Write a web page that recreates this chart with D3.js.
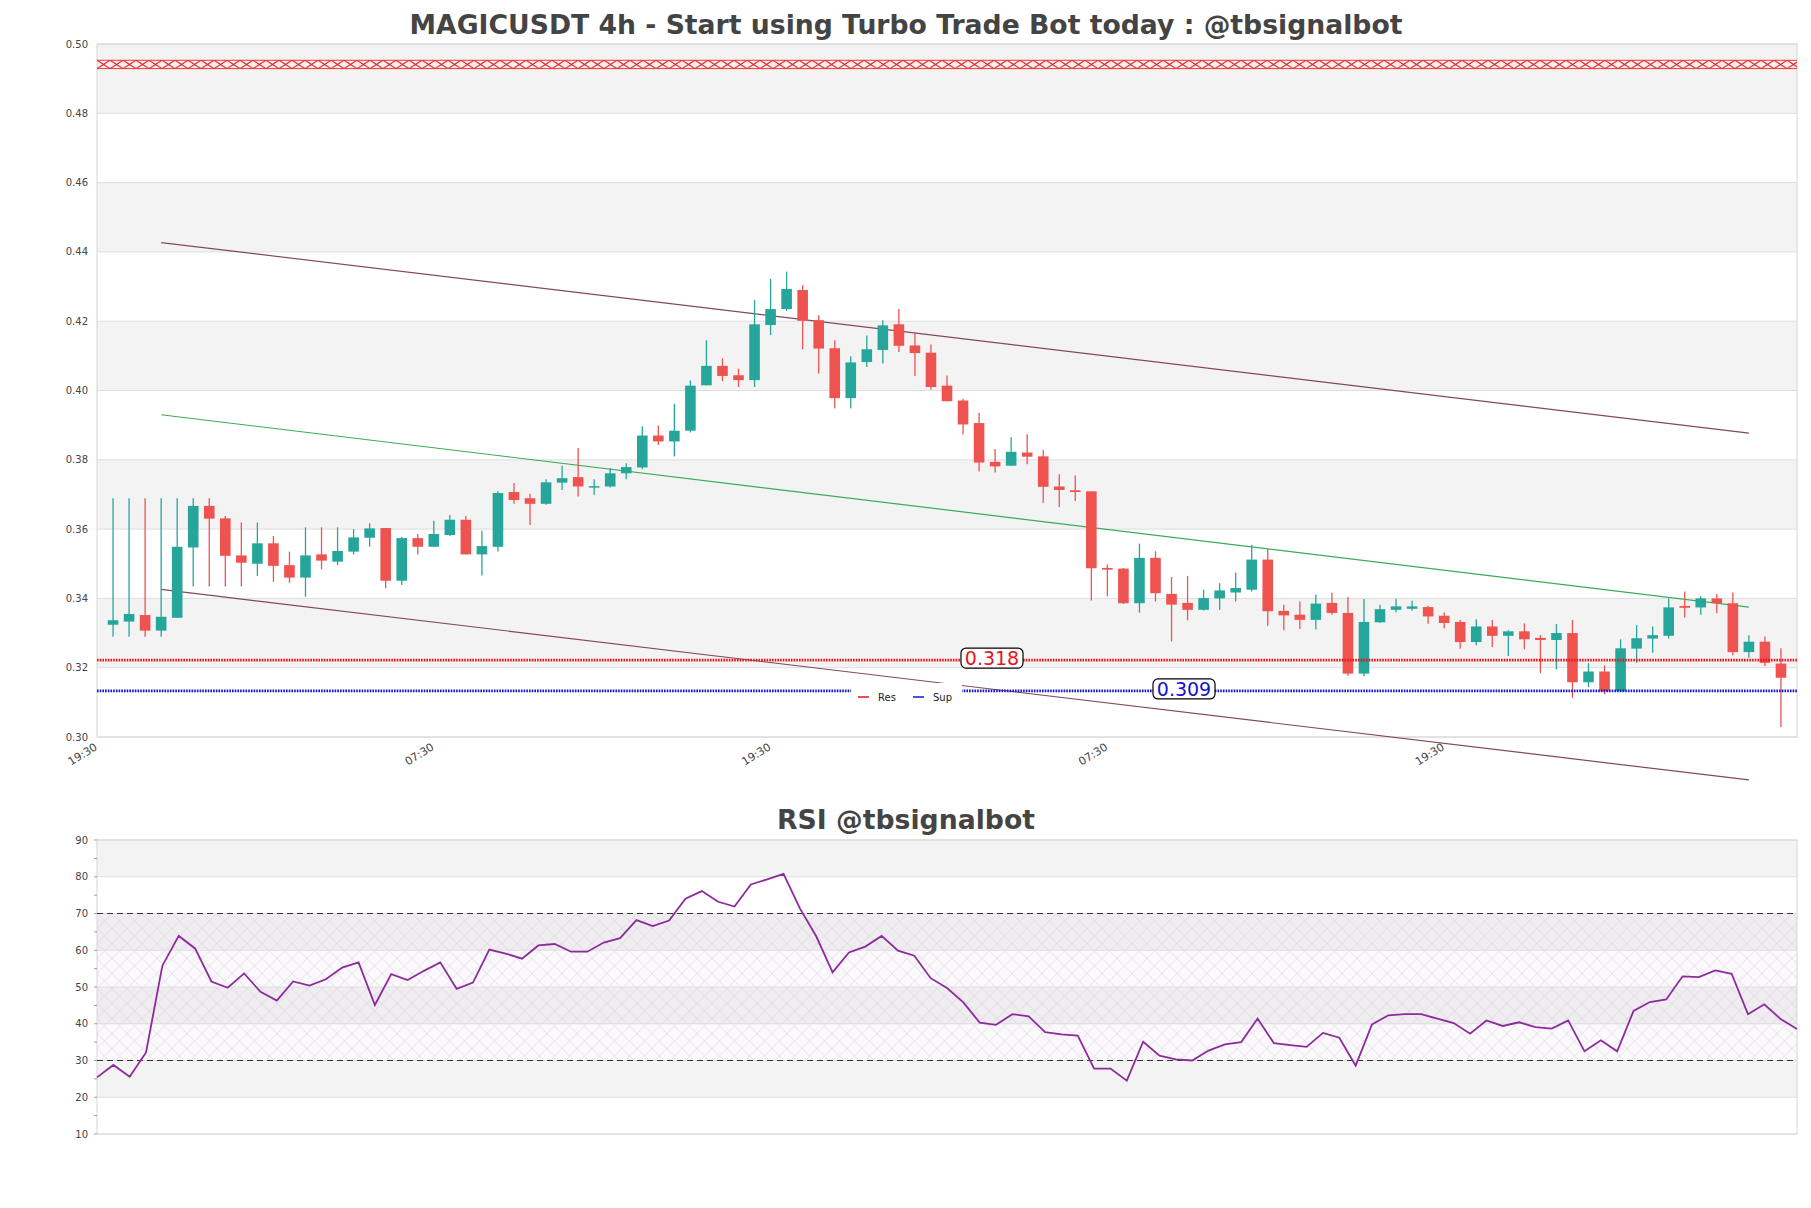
<!DOCTYPE html>
<html>
<head>
<meta charset="utf-8">
<script src="https://cdn.jsdelivr.net/npm/d3@7"></script>
<style>
  body { margin: 0; background: #fff; }
  svg { font-family: "DejaVu Sans", sans-serif; }
</style>
</head>
<body>
<svg id="svg" width="1811" height="1208"></svg>
<script>
// DATA //

// 4h candles
const open = [0.3324,0.3333,0.3352,0.3307,0.3344,0.3547,0.3667,0.3631,0.3524,0.3500,
  0.3559,0.3496,0.3460,0.3527,0.3506,0.3535,0.3575,0.3603,0.3451,0.3574,
  0.3549,0.3583,0.3627,0.3527,0.3549,0.3707,0.3689,0.3673,0.3734,0.3750,
  0.3722,0.3723,0.3761,0.3778,0.3870,0.3853,0.3884,0.4015,0.4071,0.4044,
  0.4030,0.4189,0.4235,0.4290,0.4203,0.4122,0.3978,0.4082,0.4117,0.4191,
  0.4130,0.4109,0.4014,0.3971,0.3906,0.3794,0.3783,0.3821,0.3810,0.3723,
  0.3712,0.3709,0.3488,0.3486,0.3386,0.3517,0.3413,0.3387,0.3367,0.3400,
  0.3417,0.3425,0.3512,0.3364,0.3353,0.3338,0.3387,0.3358,0.3183,0.3331,
  0.3367,0.3370,0.3375,0.3350,0.3332,0.3274,0.3319,0.3292,0.3305,0.3286,
  0.3280,0.3300,0.3158,0.3189,0.3132,0.3255,0.3284,0.3292,0.3378,0.3374,
  0.3400,0.3386,0.3245,0.3275,0.3212];
const high = [0.3689,0.3689,0.3689,0.3689,0.3689,0.3689,0.3689,0.3638,0.3619,0.3619,
  0.3580,0.3535,0.3605,0.3605,0.3605,0.3600,0.3617,0.3603,0.3578,0.3586,
  0.3624,0.3641,0.3638,0.3595,0.3710,0.3733,0.3702,0.3744,0.3783,0.3834,
  0.3744,0.3776,0.3790,0.3897,0.3899,0.3962,0.4029,0.4145,0.4093,0.4063,
  0.4261,0.4322,0.4343,0.4304,0.4217,0.4145,0.4099,0.4159,0.4203,0.4235,
  0.4167,0.4133,0.4043,0.3976,0.3936,0.3831,0.3865,0.3874,0.3828,0.3758,
  0.3755,0.3709,0.3498,0.3488,0.3558,0.3536,0.3462,0.3465,0.3425,0.3444,
  0.3475,0.3555,0.3542,0.3382,0.3391,0.3411,0.3416,0.3404,0.3398,0.3382,
  0.3399,0.3393,0.3379,0.3360,0.3338,0.3340,0.3338,0.3308,0.3328,0.3294,
  0.3326,0.3338,0.3213,0.3207,0.3282,0.3323,0.3319,0.3400,0.3420,0.3406,
  0.3413,0.3417,0.3294,0.3290,0.3256];
const low = [0.3289,0.3289,0.3289,0.3289,0.3344,0.3434,0.3434,0.3434,0.3434,0.3465,
  0.3448,0.3445,0.3405,0.3484,0.3496,0.3527,0.3549,0.3429,0.3439,0.3527,
  0.3549,0.3580,0.3527,0.3466,0.3535,0.3673,0.3612,0.3670,0.3713,0.3694,
  0.3699,0.3720,0.3744,0.3773,0.3843,0.3810,0.3879,0.4015,0.4027,0.4010,
  0.4010,0.4160,0.4230,0.4119,0.4049,0.3949,0.3949,0.4068,0.4078,0.4111,
  0.4042,0.4003,0.3969,0.3873,0.3766,0.3763,0.3783,0.3787,0.3676,0.3664,
  0.3681,0.3394,0.3406,0.3384,0.3359,0.3391,0.3276,0.3337,0.3365,0.3367,
  0.3391,0.3420,0.3321,0.3308,0.3312,0.3310,0.3353,0.3177,0.3175,0.3330,
  0.3360,0.3365,0.3327,0.3314,0.3255,0.3265,0.3260,0.3234,0.3253,0.3184,
  0.3195,0.3113,0.3144,0.3123,0.3132,0.3214,0.3243,0.3284,0.3345,0.3353,
  0.3357,0.3236,0.3229,0.3205,0.3029];
const close = [0.3337,0.3355,0.3307,0.3347,0.3549,0.3667,0.3630,0.3523,0.3503,0.3559,
  0.3494,0.3460,0.3524,0.3509,0.3537,0.3576,0.3602,0.3451,0.3574,0.3549,
  0.3586,0.3627,0.3527,0.3551,0.3704,0.3684,0.3673,0.3735,0.3747,0.3723,
  0.3724,0.3761,0.3779,0.3870,0.3853,0.3884,0.4014,0.4071,0.4042,0.4030,
  0.4191,0.4235,0.4293,0.4201,0.4121,0.3978,0.4081,0.4119,0.4188,0.4129,
  0.4108,0.4010,0.3969,0.3902,0.3792,0.3781,0.3823,0.3809,0.3722,0.3713,
  0.3707,0.3487,0.3483,0.3386,0.3517,0.3415,0.3382,0.3367,0.3401,0.3423,
  0.3430,0.3512,0.3363,0.3351,0.3338,0.3385,0.3358,0.3183,0.3332,0.3369,
  0.3377,0.3377,0.3348,0.3329,0.3274,0.3319,0.3292,0.3305,0.3282,0.3280,
  0.3300,0.3158,0.3189,0.3132,0.3256,0.3285,0.3294,0.3374,0.3373,0.3400,
  0.3386,0.3245,0.3275,0.3214,0.3171];

// RSI values, one per candle
const rsi = [25.4,28.8,25.6,32.2,55.8,63.9,60.5,51.5,49.8,53.7,
  48.7,46.3,51.5,50.4,52.1,55.3,56.7,45.1,53.5,51.9,
  54.4,56.7,49.5,51.2,60.2,59.1,57.7,61.3,61.7,59.6,
  59.6,62.1,63.3,68.2,66.6,68.1,74.0,76.1,73.2,71.9,
  77.9,79.3,80.8,71.4,63.8,54.0,59.4,61.0,63.9,59.9,
  58.5,52.4,49.7,45.8,40.3,39.7,42.6,42.0,37.7,37.1,
  36.8,27.8,27.8,24.5,35.1,31.3,30.3,30.0,32.7,34.4,
  35.0,41.4,34.7,34.2,33.7,37.5,36.2,28.6,39.8,42.3,
  42.6,42.6,41.4,40.2,37.3,40.9,39.4,40.4,39.1,38.7,
  40.9,32.5,35.5,32.5,43.5,45.9,46.6,52.9,52.7,54.5,
  53.6,42.6,45.3,41.3,38.6];

// X tick labels (candle index)
const tickIndex = [-1, 20, 41, 62, 83];
const tickLabel = ["19:30", "07:30", "19:30", "07:30", "19:30"];

// Channel trendlines [start index, end index], [start value, end value]
const channelIndex = [3, 102];
const upperLine = [0.4427, 0.3877];
const middleLine = [0.3930, 0.3375];
const lowerLine = [0.3426, 0.2876];

// Levels
const resLevel = 0.3222;
const supLevel = 0.3133;
const resText = "0.318";
const supText = "0.309";
const resZone = [0.4929, 0.4953];

// MAIN //

const svg = d3.select("#svg");

const left = 97, right = 1797;

const x = d3.scaleLinear().domain([-1, 105]).range([left, right]);
const y = d3.scaleLinear().domain([0.30, 0.50]).range([737, 44]);

const xr = d3.scaleLinear().domain([0, rsi.length - 1]).range([left, right]);
const yr = d3.scaleLinear().domain([10, 90]).range([1134, 840]);

const defs = svg.append("defs");

// Titles
svg.append("text")
  .attr("x", 906).attr("y", 34)
  .attr("text-anchor", "middle")
  .attr("font-size", 27).attr("font-weight", "bold")
  .attr("fill", "#444")
  .attr("textLength", 993).attr("lengthAdjust", "spacingAndGlyphs")
  .text("MAGICUSDT 4h - Start using Turbo Trade Bot today : @tbsignalbot");

svg.append("text")
  .attr("x", 906).attr("y", 829)
  .attr("text-anchor", "middle")
  .attr("font-size", 27).attr("font-weight", "bold")
  .attr("fill", "#444")
  .attr("textLength", 258).attr("lengthAdjust", "spacingAndGlyphs")
  .text("RSI @tbsignalbot");

// PRICE PANEL //

const main = svg.append("g");

// Alternating bands
const priceTicks = d3.range(0.30, 0.5001, 0.02);
main.selectAll(".band")
  .data(d3.range(0, 10))
  .enter().append("rect")
  .attr("x", left)
  .attr("width", right - left)
  .attr("y", i => y(0.30 + (i + 1) * 0.02))
  .attr("height", i => y(0.30 + i * 0.02) - y(0.30 + (i + 1) * 0.02))
  .attr("fill", i => i % 2 === 1 ? "#f3f3f3" : "#fff");

// Grid
main.selectAll(".grid")
  .data(priceTicks)
  .enter().append("line")
  .attr("x1", left).attr("x2", right)
  .attr("y1", d => y(d)).attr("y2", d => y(d))
  .attr("stroke", "#dedede").attr("stroke-width", 1);

// Frame
main.append("rect")
  .attr("x", left).attr("y", y(0.50))
  .attr("width", right - left).attr("height", y(0.30) - y(0.50))
  .attr("fill", "none").attr("stroke", "#d6d6d6");

// Y axis labels
main.selectAll(".ylab")
  .data(priceTicks)
  .enter().append("text")
  .attr("x", 88).attr("y", d => y(d) + 3.5)
  .attr("text-anchor", "end")
  .attr("font-size", 10).attr("fill", "#444")
  .text(d => d.toFixed(2));

// X axis labels
main.selectAll(".xlab")
  .data(tickIndex)
  .enter().append("text")
  .attr("transform", d => `translate(${x(d) + 1},${y(0.30) + 12}) rotate(-32)`)
  .attr("text-anchor", "end")
  .attr("font-size", 11).attr("fill", "#444")
  .text((d, i) => tickLabel[i]);

// Resistance zone with x hatch
const zTop = y(resZone[1]), zBot = y(resZone[0]);
const hatch = defs.append("pattern")
  .attr("id", "xhatch")
  .attr("patternUnits", "userSpaceOnUse")
  .attr("x", left).attr("y", zTop)
  .attr("width", 13).attr("height", zBot - zTop);
hatch.append("path")
  .attr("d", `M0,0L13,${zBot - zTop}M0,${zBot - zTop}L13,0`)
  .attr("stroke", "#e22").attr("stroke-width", 1.2).attr("fill", "none");

main.append("rect")
  .attr("x", left).attr("y", zTop)
  .attr("width", right - left).attr("height", zBot - zTop)
  .attr("fill", "url(#xhatch)");
main.selectAll(".zedge")
  .data(resZone)
  .enter().append("line")
  .attr("x1", left).attr("x2", right)
  .attr("y1", d => y(d)).attr("y2", d => y(d))
  .attr("stroke", "#e22").attr("stroke-width", 0.9);

// Channel lines
const channel = [
  {v: upperLine, c: "#84485a"},
  {v: middleLine, c: "#3cab5a"},
  {v: lowerLine, c: "#84485a"}
];
main.selectAll(".channel")
  .data(channel)
  .enter().append("line")
  .attr("x1", x(channelIndex[0])).attr("x2", x(channelIndex[1]))
  .attr("y1", d => y(d.v[0])).attr("y2", d => y(d.v[1]))
  .attr("stroke", d => d.c).attr("stroke-width", 1.2);

// Candles
const candles = open.map((o, i) => ({i: i, o: o, h: high[i], l: low[i], c: close[i]}));
const color = d => d.c >= d.o ? "#26a69a" : "#ef5350";
const bodyW = 10.6;

const cg = main.append("g").selectAll("g")
  .data(candles)
  .enter().append("g");

cg.append("line")
  .attr("x1", d => x(d.i)).attr("x2", d => x(d.i))
  .attr("y1", d => y(d.h)).attr("y2", d => y(d.l))
  .attr("stroke", color).attr("stroke-width", 1.3);

cg.append("rect")
  .attr("x", d => x(d.i) - bodyW / 2)
  .attr("width", bodyW)
  .attr("y", d => y(Math.max(d.o, d.c)))
  .attr("height", d => Math.max(1.5, Math.abs(y(d.o) - y(d.c))))
  .attr("fill", color);

// Support / resistance lines
const levels = [
  {v: resLevel, c: "#e8141a", t: resText, lx: 961},
  {v: supLevel, c: "#1414cc", t: supText, lx: 1153}
];
main.selectAll(".level")
  .data(levels)
  .enter().append("line")
  .attr("x1", left).attr("x2", right)
  .attr("y1", d => y(d.v)).attr("y2", d => y(d.v))
  .attr("stroke", d => d.c).attr("stroke-width", 2.8)
  .attr("stroke-dasharray", "1.6,1.1");

// Legend
const legend = main.append("g");
legend.append("rect")
  .attr("x", 851).attr("y", 683).attr("width", 111).attr("height", 27)
  .attr("fill", "#fff");
legend.selectAll(".lg")
  .data(levels)
  .enter().append("line")
  .attr("x1", (d, i) => 858 + i * 55).attr("x2", (d, i) => 869 + i * 55)
  .attr("y1", 697).attr("y2", 697)
  .attr("stroke", d => d.c).attr("stroke-width", 1.5);
legend.selectAll(".lt")
  .data(["Res", "Sup"])
  .enter().append("text")
  .attr("x", (d, i) => 878 + i * 55).attr("y", 700.5)
  .attr("font-size", 10).attr("fill", "#222")
  .text(d => d);

// Level value labels
const lab = main.selectAll(".lab")
  .data(levels)
  .enter().append("g")
  .attr("transform", d => `translate(${d.lx},${y(d.v) - 2})`);
lab.append("rect")
  .attr("x", 0).attr("y", -10).attr("width", 62).attr("height", 20)
  .attr("rx", 5)
  .attr("fill", "#fff").attr("stroke", "#000").attr("stroke-width", 1.2);
lab.append("text")
  .attr("x", 31).attr("y", 7)
  .attr("text-anchor", "middle")
  .attr("font-size", 19)
  .attr("fill", d => d.c)
  .text(d => d.t);

// RSI PANEL //

const rg = svg.append("g");

rg.selectAll(".band")
  .data(d3.range(0, 8))
  .enter().append("rect")
  .attr("x", left).attr("width", right - left)
  .attr("y", i => yr(20 + i * 10))
  .attr("height", i => yr(10 + i * 10) - yr(20 + i * 10))
  .attr("fill", i => i % 2 === 1 ? "#f3f3f3" : "#fff");

// Cross hatch between 30 and 70
const ch = defs.append("pattern")
  .attr("id", "cross")
  .attr("patternUnits", "userSpaceOnUse")
  .attr("x", left).attr("y", yr(70))
  .attr("width", 15).attr("height", 15);
ch.append("path")
  .attr("d", "M0,0L15,15M0,15L15,0")
  .attr("stroke", "#cfc6d8").attr("stroke-width", 0.6).attr("fill", "none");

rg.append("rect")
  .attr("x", left).attr("width", right - left)
  .attr("y", yr(70)).attr("height", yr(30) - yr(70))
  .attr("fill", "rgba(150,110,190,0.04)");
rg.append("rect")
  .attr("x", left).attr("width", right - left)
  .attr("y", yr(70)).attr("height", yr(30) - yr(70))
  .attr("fill", "url(#cross)").attr("opacity", 0.8);

const rsiTicks = d3.range(10, 91, 10);
rg.selectAll(".grid")
  .data(rsiTicks)
  .enter().append("line")
  .attr("x1", left).attr("x2", right)
  .attr("y1", d => yr(d)).attr("y2", d => yr(d))
  .attr("stroke", "#dedede");

rg.append("rect")
  .attr("x", left).attr("y", yr(90))
  .attr("width", right - left).attr("height", yr(10) - yr(90))
  .attr("fill", "none").attr("stroke", "#d6d6d6");

// Y axis with minor ticks
rg.selectAll(".tick")
  .data(d3.range(10, 91, 5))
  .enter().append("line")
  .attr("x1", left - 3).attr("x2", left)
  .attr("y1", d => yr(d)).attr("y2", d => yr(d))
  .attr("stroke", "#888").attr("stroke-width", 0.8);

rg.selectAll(".ylab")
  .data(rsiTicks)
  .enter().append("text")
  .attr("x", 88).attr("y", d => yr(d) + 3.5)
  .attr("text-anchor", "end")
  .attr("font-size", 10).attr("fill", "#444")
  .text(d => d);

// Overbought / oversold
rg.selectAll(".ob")
  .data([70, 30])
  .enter().append("line")
  .attr("x1", left).attr("x2", right)
  .attr("y1", d => yr(d)).attr("y2", d => yr(d))
  .attr("stroke", "#333").attr("stroke-width", 1.1)
  .attr("stroke-dasharray", "6,4");

// RSI line
rg.append("path")
  .datum(rsi)
  .attr("d", d3.line().x((d, i) => xr(i)).y(d => yr(d)))
  .attr("fill", "none")
  .attr("stroke", "#8e2a9e").attr("stroke-width", 1.8);
</script>
</body>
</html>
